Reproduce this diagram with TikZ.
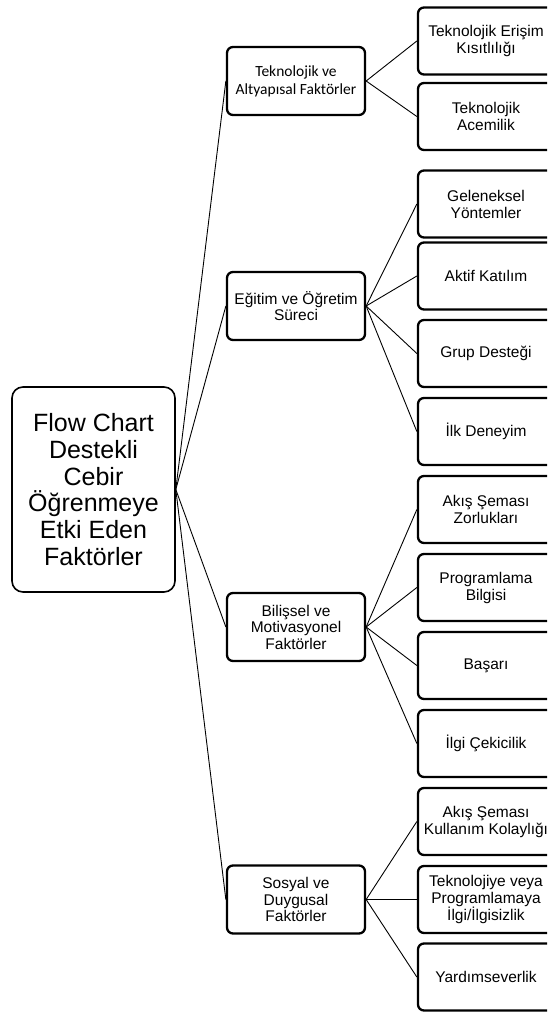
\documentclass[tikz,border=0pt]{standalone}
\usepackage{fontspec}
\setmainfont{Liberation Sans}
\newfontfamily\carlito{Carlito}
\begin{document}
\begin{tikzpicture}[x=1pt,y=-1pt,
  rootbox/.style={draw, line width=1.6pt, rounded corners=11pt, minimum width=163pt, minimum height=205pt, align=center, inner sep=0pt, font=\fontsize{25}{26.7}\selectfont},
  catbox/.style={draw, line width=2.3pt, rounded corners=6pt, minimum width=138pt, minimum height=68pt, align=center, inner sep=0pt, font=\fontsize{15.5}{16.5}\selectfont},
  leafbox/.style={draw, line width=2.3pt, rounded corners=6pt, minimum width=136pt, minimum height=67pt, align=center, inner sep=0pt, font=\fontsize{15.5}{17}\selectfont},
  link/.style={line width=0.9pt}]
\useasboundingbox (0,0) rectangle (547,1012);
\clip (0,0) rectangle (547,1012);
\fill[white] (0,0) rectangle (547,1012);

\node[rootbox] (root) at (93.5,489.5) {Flow Chart\\Destekli\\Cebir\\Öğrenmeye\\Etki Eden\\Faktörler};

\node[catbox, font=\carlito\fontsize{15.5}{18}\selectfont] (c1) at (296,81) {Teknolojik ve\\Altyapısal Faktörler};
\node[catbox] (c2) at (296,306) {Eğitim ve  Öğretim\\Süreci};
\node[catbox] (c3) at (296,627) {Bilişsel ve\\Motivasyonel\\Faktörler};
\node[catbox] (c4) at (296,899.5) {Sosyal ve\\Duygusal\\Faktörler};

\node[leafbox] (l1) at (486,41) {Teknolojik Erişim\\Kısıtlılığı};
\node[leafbox] (l2) at (486,116.5) {Teknolojik\\Acemilik};
\node[leafbox] (l3) at (486,204) {Geleneksel\\Yöntemler};
\node[leafbox] (l4) at (486,276) {Aktif Katılım};
\node[leafbox] (l5) at (486,353.5) {Grup Desteği};
\node[leafbox] (l6) at (486,431.5) {İlk Deneyim};
\node[leafbox] (l7) at (486,509.5) {Akış Şeması\\Zorlukları};
\node[leafbox] (l8) at (486,587.5) {Programlama\\Bilgisi};
\node[leafbox] (l9) at (486,665.5) {Başarı};
\node[leafbox] (l10) at (486,743.5) {İlgi Çekicilik};
\node[leafbox] (l11) at (486,821.5) {Akış Şeması\\Kullanım Kolaylığı};
\node[leafbox] (l12) at (486,899.5) {Teknolojiye veya\\Programlamaya\\İlgi/İlgisizlik};
\node[leafbox] (l13) at (486,977) {Yardımseverlik};

\foreach \c in {c1,c2,c3,c4} \draw[link] (root.east) -- (\c.west);
\foreach \l in {l1,l2} \draw[link] (c1.east) -- (\l.west);
\foreach \l in {l3,l4,l5,l6} \draw[link] (c2.east) -- (\l.west);
\foreach \l in {l7,l8,l9,l10} \draw[link] (c3.east) -- (\l.west);
\foreach \l in {l11,l12,l13} \draw[link] (c4.east) -- (\l.west);
\end{tikzpicture}
\end{document}
